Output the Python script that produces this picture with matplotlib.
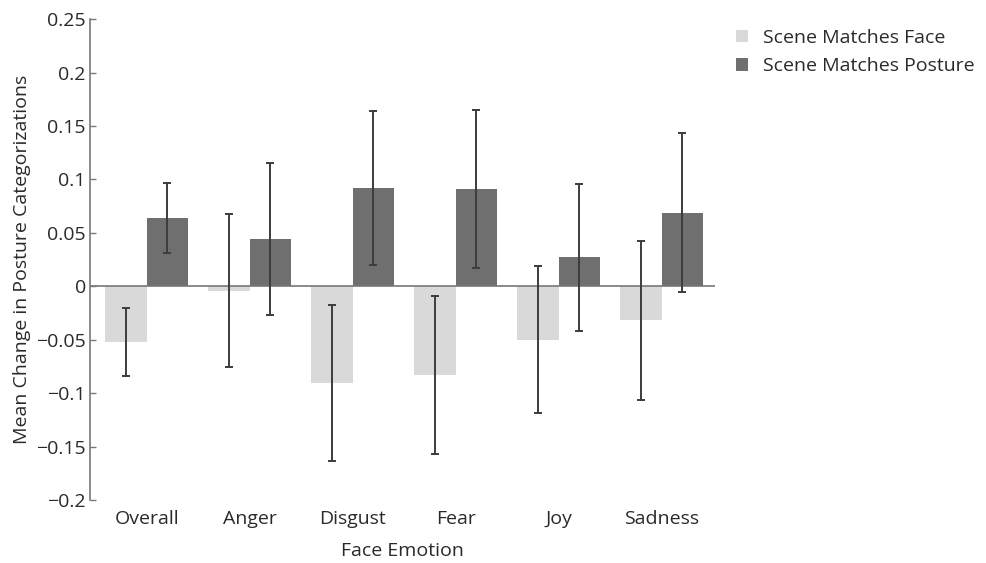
import matplotlib.pyplot as plt
import numpy as np

plt.rcParams['font.family'] = ['Open Sans', 'DejaVu Sans']

emotions = ["Overall", "Anger", "Disgust", "Fear", "Joy", "Sadness"]
face_mean = [-0.052, -0.004, -0.091, -0.083, -0.050, -0.032]
face_err = [0.032, 0.072, 0.073, 0.074, 0.069, 0.074]
posture_mean = [0.064, 0.044, 0.092, 0.091, 0.027, 0.069]
posture_err = [0.033, 0.071, 0.072, 0.074, 0.069, 0.074]
yticks = [-0.2, -0.15, -0.1, -0.05, 0, 0.05, 0.1, 0.15, 0.2, 0.25]

light = "#d9d9d9"
dark = "#6f6f6f"
errc = "#3c3c3c"
txt = "#2a2a2a"
fs = 14

fig = plt.figure(figsize=(9.86, 5.63), dpi=100)
ax = fig.add_axes([0.0913, 0.112, 0.634, 0.854])

x = np.arange(len(emotions))
w = 0.4
ax.bar(x - w / 2, face_mean, w, color=light, label="Scene Matches Face", zorder=2)
ax.bar(x + w / 2, posture_mean, w, color=dark, label="Scene Matches Posture", zorder=2)
ax.errorbar(x - w / 2, face_mean, yerr=face_err, fmt="none", ecolor=errc,
            elinewidth=1.4, capsize=3, capthick=1.4, zorder=4)
ax.errorbar(x + w / 2, posture_mean, yerr=posture_err, fmt="none", ecolor=errc,
            elinewidth=1.4, capsize=3, capthick=1.4, zorder=4)
ax.axhline(0, color="#777777", lw=1.2, zorder=3)

ax.set_xlim(-0.55, 5.52)
ax.set_ylim(-0.2, 0.25)
ax.set_xticks(x)
ax.set_xticklabels(emotions, fontsize=fs, color=txt)
ax.set_yticks(yticks)
ax.set_yticklabels([f"{v:g}".replace("-", "\u2212") for v in yticks],
                   fontsize=fs, color=txt)
ax.tick_params(axis="y", direction="in", length=4, width=1, color="#777777", pad=3)
ax.tick_params(axis="x", length=0, pad=7)

for s in ["top", "right", "bottom"]:
    ax.spines[s].set_visible(False)
ax.spines["left"].set_color("#777777")
ax.spines["left"].set_linewidth(1.2)

ax.set_xlabel("Face Emotion", fontsize=fs, color=txt, labelpad=10)
ax.set_ylabel("Mean Change in Posture Categorizations", fontsize=fs,
              color=txt, labelpad=4)

fig.legend(loc="upper left", bbox_to_anchor=(0.729, 0.98), frameon=False,
           fontsize=fs, handlelength=0.6, handleheight=0.6, handletextpad=0.75,
           labelspacing=0.55, labelcolor=txt)

fig.savefig("out.png", dpi=100)
